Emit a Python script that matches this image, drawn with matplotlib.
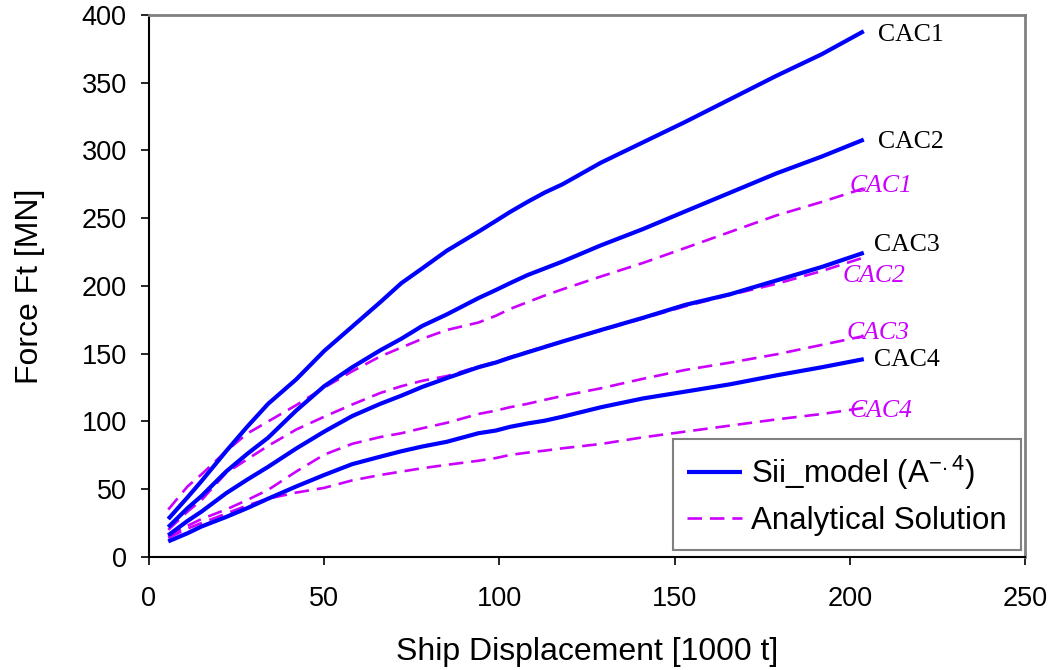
import matplotlib
matplotlib.use('Agg')
import matplotlib.pyplot as plt

plt.rcParams['font.family'] = ['Liberation Sans', 'DejaVu Sans']
plt.rcParams['mathtext.fontset'] = 'custom'
plt.rcParams['mathtext.rm'] = 'Liberation Sans'
plt.rcParams['mathtext.default'] = 'regular'

# ship displacement [1000 t], shared by all curves
disp = [5.5, 11, 15, 22, 28, 34, 42, 50, 58, 66, 72, 78, 85, 94, 99, 103,
        108, 113, 118, 129, 141, 153, 166, 179, 192, 204]

# Sii model force [MN]
sii_cac1 = [28, 44, 56, 78, 96, 113, 131, 152, 170, 188, 202, 213, 226, 240,
            248, 254.5, 262, 269, 275, 291, 306, 321, 338, 355, 371, 388]
sii_cac2 = [22, 36, 45, 63, 76, 88, 108, 126, 140, 152.5, 161, 170.5, 179, 191,
            197, 202, 208, 213, 218, 230, 242, 255, 269, 283, 295.5, 308]
sii_cac3 = [16, 26.6, 33.5, 47, 57, 66.5, 80, 92.5, 104, 113, 119, 125.5, 132,
            140, 143.5, 147, 151, 155, 159, 167.5, 176.5, 186, 194, 204, 214,
            224.5]
sii_cac4 = [11.5, 17.5, 22.5, 29.5, 36, 43, 52, 60.5, 68.5, 74, 78, 81.5, 85,
            91.3, 93.3, 96, 98.5, 100.6, 103.5, 110.5, 117, 122, 127.5, 134,
            140, 146]

# analytical solution force [MN]
ana_cac1 = [35, 52, 61, 78, 91, 100, 112, 125, 137, 148, 154.5, 161, 167.5,
            173, 178, 183, 188, 193, 197.5, 207, 217, 228, 240, 252, 262, 272]
ana_cac2 = [20, 33.5, 42, 62, 72, 82, 94, 103.5, 112.5, 121, 126, 130, 133.5,
            140.5, 144, 147.5, 151.5, 155.5, 159, 167, 176, 185, 193.5, 201.5,
            211, 221]
ana_cac3 = [15, 23, 28, 35, 42, 49.5, 63, 75.5, 83.5, 88.5, 91.3, 95, 99, 105.5,
            108, 110.5, 113, 116, 118.8, 124.5, 131.5, 138, 143.5, 149.5, 156.5,
            163]
ana_cac4 = [14, 21, 25, 32, 38, 43, 47.5, 51, 56.5, 60.5, 63, 65.5, 68, 71, 73,
            75.3, 77, 78.5, 80.2, 83.4, 88.3, 92.5, 97, 101.5, 105.5, 110]

names = ['CAC1', 'CAC2', 'CAC3', 'CAC4']
sii = [sii_cac1, sii_cac2, sii_cac3, sii_cac4]
ana = [ana_cac1, ana_cac2, ana_cac3, ana_cac4]

# where the curve names sit (x, y) in data units
sii_label_pos = [(208, 385), (208, 306), (207, 230.5), (207, 145)]
ana_label_pos = [(200, 274), (198, 207.5), (199, 165.5), (200, 108)]

blue = '#0000FF'
violet = '#CC00FF'

fig = plt.figure(figsize=(10.52, 6.70), dpi=100)
ax = fig.add_axes([0.1416, 0.1687, 0.8327, 0.809])

for i in range(4):
    ax.plot(disp, ana[i], color=violet, lw=1.9, dashes=(5.5, 3),
            label='Analytical Solution' if i == 0 else None, zorder=2)
    ax.plot(disp, sii[i], color=blue, lw=3.0, solid_capstyle='butt',
            label='Sii_model (A$^{-.4}$)' if i == 0 else None, zorder=3)

for name, (lx, ly) in zip(names, sii_label_pos):
    ax.text(lx, ly, name, fontsize=18.5, family='Liberation Serif',
            color='black', va='center', ha='left')
for name, (lx, ly) in zip(names, ana_label_pos):
    ax.text(lx, ly, name, fontsize=18.5, family='Liberation Serif',
            style='italic', color=violet, va='center', ha='left')

ax.set_xlim(0, 250)
ax.set_ylim(0, 400)
ax.set_xticks(range(0, 251, 50))
ax.set_yticks(range(0, 401, 50))
ax.tick_params(axis='both', direction='out', length=6, width=1.2,
               labelsize=19.5, color='black')
ax.tick_params(axis='x', pad=15)
ax.tick_params(axis='y', pad=10)

for side in ['left', 'bottom']:
    ax.spines[side].set_color('black')
    ax.spines[side].set_linewidth(1.5)
for side in ['top', 'right']:
    ax.spines[side].set_color('#808080')
    ax.spines[side].set_linewidth(2.0)

ax.set_xlabel('Ship Displacement [1000 t]', fontsize=23, labelpad=18)
ax.set_ylabel('Force Ft [MN]', fontsize=23, labelpad=26)

handles, labels = ax.get_legend_handles_labels()
order = [labels.index('Sii_model (A$^{-.4}$)'), labels.index('Analytical Solution')]
leg = ax.legend([handles[k] for k in order], [labels[k] for k in order],
                loc='lower right', bbox_to_anchor=(0.9954, 0.0129),
                borderaxespad=0, fontsize=22.5, handlelength=1.75,
                handletextpad=0.3, fancybox=False, framealpha=1,
                edgecolor='#808080', borderpad=0.45, labelspacing=0.45)
leg.get_frame().set_linewidth(1.5)

fig.savefig('out.png', dpi=100, facecolor='white')
